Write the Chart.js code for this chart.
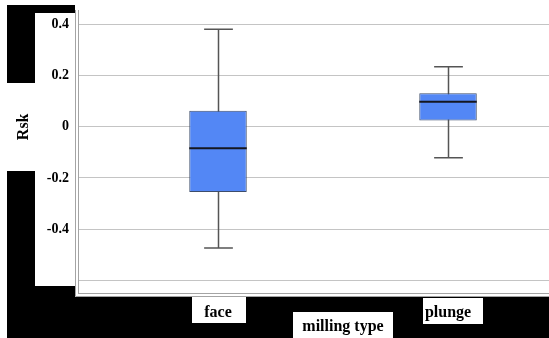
<!DOCTYPE html>
<html>
<head>
<meta charset="utf-8">
<script src="https://cdn.jsdelivr.net/npm/chart.js@4"></script>
<style>
  html, body { margin: 0; padding: 0; background: #fff; overflow: hidden; }
  #wrap { width: 549px; height: 338px; position: relative; }
</style>
</head>
<body>
<div id="wrap"><canvas id="c"></canvas></div>
<script>
// Rsk by milling type: five-number summaries per group
const categories = ['face', 'plunge'];
const whiskerLow = [-0.474, -0.121];
const quartile1 = [-0.255, 0.025];
const medians = [-0.084, 0.098];
const quartile3 = [0.063, 0.131];
const whiskerHigh = [0.382, 0.235];

// value axis ticks and their printed labels
const yTicks = [-0.6, -0.4, -0.2, 0, 0.2, 0.4];
const yLabels = ['', '-0.4', '-0.2', '0', '0.2', '0.4'];

const SERIF = '"Liberation Serif", "DejaVu Serif", serif';

// black backdrop with white cards behind the plot and the labels
const panels = {
  id: 'panels',
  beforeDraw(chart) {
    const { ctx, chartArea: a, width, height } = chart;
    ctx.save();
    ctx.fillStyle = '#fff';
    ctx.fillRect(0, 0, width, height);
    ctx.fillStyle = '#000';
    ctx.fillRect(7, 5, width - 7, height - 5);
    ctx.fillStyle = '#fff';
    ctx.fillRect(a.left - 3, 0, width, a.bottom + 4);   // plot card
    ctx.fillRect(35, 13, a.left - 38, 273);             // value tick card
    ctx.fillRect(7, 83, 28, 88);                        // axis title card
    ctx.fillRect(192, 297, 54, 26);                     // face
    ctx.fillRect(423, 298, 60, 26);                     // plunge
    ctx.fillRect(293, 312, 100, 26);                    // milling type
    ctx.restore();
  },
  afterDraw(chart) {
    const { ctx, chartArea: a, width, scales } = chart;
    ctx.save();
    // outer frame line
    ctx.strokeStyle = '#a4a4a4';
    ctx.lineWidth = 1;
    ctx.beginPath();
    ctx.moveTo(a.left - 2.5, a.top);
    ctx.lineTo(a.left - 2.5, a.bottom + 3.5);
    ctx.lineTo(width, a.bottom + 3.5);
    ctx.stroke();
    // axis titles
    ctx.fillStyle = '#000';
    ctx.font = 'bold 16px ' + SERIF;
    ctx.textAlign = 'center';
    ctx.textBaseline = 'alphabetic';
    ctx.fillText('milling type', 343, 331);
    ctx.translate(28, scales.y.getPixelForValue(0));
    ctx.rotate(-Math.PI / 2);
    ctx.fillText('Rsk', 0, 0);
    ctx.restore();
  }
};

// whiskers, caps and median lines drawn on the chart's scales
const boxParts = {
  id: 'boxParts',
  beforeDatasetsDraw(chart) {
    const { ctx, scales } = chart;
    const meta = chart.getDatasetMeta(0);
    ctx.save();
    ctx.strokeStyle = '#555';
    ctx.lineWidth = 1.5;
    meta.data.forEach((bar, i) => {
      const x = Math.round(bar.x) + 0.5;
      const half = bar.width / 4;
      const yLo = scales.y.getPixelForValue(whiskerLow[i]);
      const yHi = scales.y.getPixelForValue(whiskerHigh[i]);
      ctx.beginPath();
      ctx.moveTo(x, yLo); ctx.lineTo(x, yHi);
      ctx.moveTo(x - half, yLo); ctx.lineTo(x + half, yLo);
      ctx.moveTo(x - half, yHi); ctx.lineTo(x + half, yHi);
      ctx.stroke();
    });
    ctx.restore();
  },
  afterDatasetsDraw(chart) {
    const { ctx, scales } = chart;
    const meta = chart.getDatasetMeta(0);
    ctx.save();
    ctx.strokeStyle = '#14161f';
    ctx.lineWidth = 2;
    meta.data.forEach((bar, i) => {
      const y = scales.y.getPixelForValue(medians[i]);
      ctx.beginPath();
      ctx.moveTo(bar.x - bar.width / 2, y);
      ctx.lineTo(bar.x + bar.width / 2, y);
      ctx.stroke();
    });
    ctx.restore();
  }
};

new Chart(document.getElementById('c'), {
  type: 'bar',
  data: {
    datasets: [{
      data: categories.map((c, i) => ({ x: i, y: [quartile1[i], quartile3[i]] })),
      backgroundColor: '#5387f5',
      borderColor: '#3d4d6b',
      borderWidth: 1,
      borderSkipped: false,
      barPercentage: 0.25,
      categoryPercentage: 1
    }]
  },
  options: {
    responsive: true,
    maintainAspectRatio: false,
    devicePixelRatio: 1,
    animation: false,
    layout: { padding: { top: 10, left: 0, right: 0, bottom: 0 } },
    plugins: { legend: { display: false }, tooltip: { enabled: false } },
    scales: {
      x: {
        type: 'linear',
        offset: false,
        min: -0.6087,
        max: 1.439,
        afterBuildTicks(scale) { scale.ticks = categories.map((c, i) => ({ value: i })); },
        afterFit(scale) {
          scale.height = 45;
          scale.paddingLeft = 0;
          scale.paddingRight = 0;
        },
        grid: { display: false, drawTicks: false },
        border: { display: true, color: '#a4a4a4', width: 1 },
        ticks: {
          autoSkip: false,
          maxRotation: 0,
          padding: 10,
          color: '#000',
          font: { family: SERIF, size: 16, weight: 'bold' },
          callback: (v, i) => categories[i]
        }
      },
      y: {
        min: -0.65,
        max: 0.457,
        afterBuildTicks(scale) { scale.ticks = yTicks.map(v => ({ value: v })); },
        afterFit(scale) {
          scale.width = 78;
          scale.paddingTop = 0;
          scale.paddingBottom = 0;
        },
        grid: { color: '#c4c4c4', lineWidth: 1, drawTicks: false },
        border: { display: true, color: '#a4a4a4', width: 1 },
        ticks: {
          padding: 9,
          color: '#000',
          font: { family: SERIF, size: 14, weight: 'bold' },
          callback: (v, i) => yLabels[i]
        }
      }
    }
  },
  plugins: [panels, boxParts]
});
</script>
</body>
</html>
